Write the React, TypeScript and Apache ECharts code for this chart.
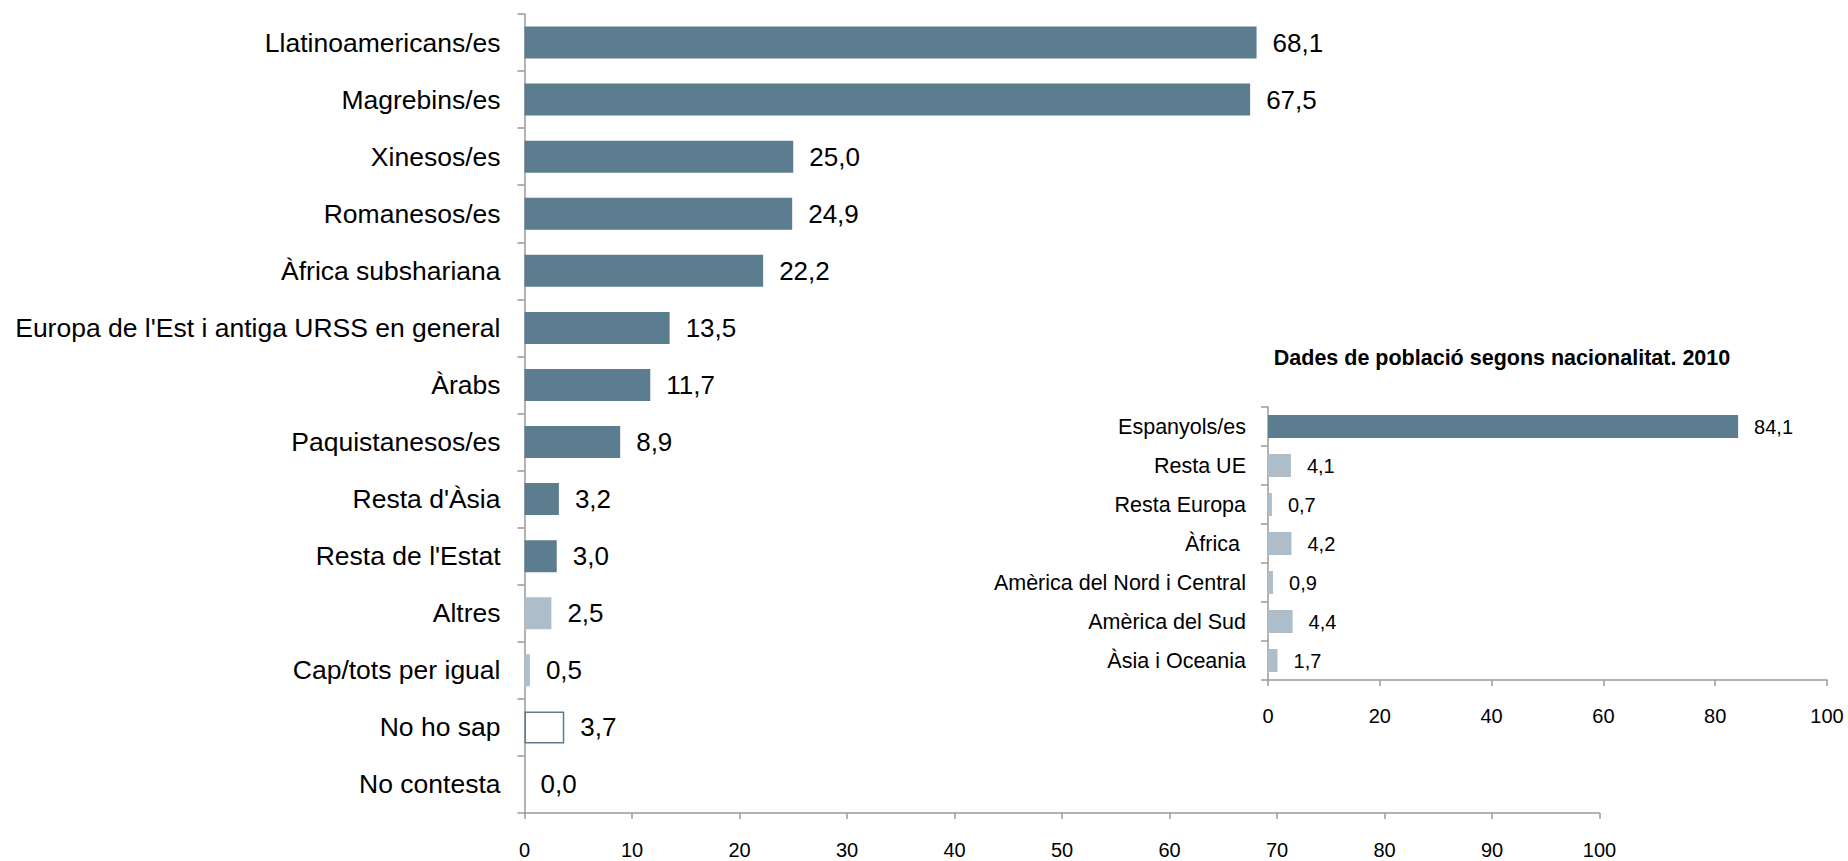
import React, { useEffect, useRef } from "react";
import * as echarts from "echarts";

// Main chart data
const mainCategories = [
  "Llatinoamericans/es",
  "Magrebins/es",
  "Xinesos/es",
  "Romanesos/es",
  "Àfrica subshariana",
  "Europa de l'Est i antiga URSS en general",
  "Àrabs",
  "Paquistanesos/es",
  "Resta d'Àsia",
  "Resta de l'Estat",
  "Altres",
  "Cap/tots per igual",
  "No ho sap",
  "No contesta",
];
const mainValues = [68.1, 67.5, 25.0, 24.9, 22.2, 13.5, 11.7, 8.9, 3.2, 3.0, 2.5, 0.5, 3.7, 0.0];
const lightCategories = ["Altres", "Cap/tots per igual"];
const outlinedCategories = ["No ho sap"];

// Inset chart data
const insetTitle = "Dades de població segons nacionalitat. 2010";
const insetCategories = [
  "Espanyols/es",
  "Resta UE",
  "Resta Europa",
  "Àfrica",
  "Amèrica del Nord i Central",
  "Amèrica del Sud",
  "Àsia i Oceania",
];
const insetValues = [84.1, 4.1, 0.7, 4.2, 0.9, 4.4, 1.7];
const insetDarkCategories = ["Espanyols/es"];

const DARK = "#5B7D8F";
const LIGHT = "#ADBECA";
const AXIS = "#9A9A9A";
const FONT = "'Liberation Sans', Arial, Helvetica, sans-serif";

const fmt = (v: number) => v.toFixed(1).replace(".", ",");

export default function App() {
  const ref = useRef<HTMLDivElement>(null);

  useEffect(() => {
    if (!ref.current) return;
    const chart = echarts.init(ref.current, null, { renderer: "svg" });

    const mainData = mainValues.map((v, i) => {
      const name = mainCategories[i];
      if (outlinedCategories.includes(name)) {
        return { value: v, itemStyle: { color: "#FFFFFF", borderColor: DARK, borderWidth: 1.5 } };
      }
      if (lightCategories.includes(name)) {
        return { value: v, itemStyle: { color: LIGHT } };
      }
      return { value: v, itemStyle: { color: DARK } };
    });

    const insetData = insetValues.map((v, i) => ({
      value: v,
      itemStyle: { color: insetDarkCategories.includes(insetCategories[i]) ? DARK : LIGHT },
    }));

    const axisLine = { show: true, lineStyle: { color: AXIS, width: 1.5 } };
    const axisTick = { show: true, length: 7, lineStyle: { color: AXIS, width: 1.5 } };

    chart.setOption({
      animation: false,
      backgroundColor: "#FFFFFF",
      textStyle: { fontFamily: FONT, color: "#000" },
      title: {
        text: insetTitle,
        left: 1497,
        top: 342,
        textAlign: "center",
        textStyle: { fontFamily: FONT, fontSize: 21.5, fontWeight: "bold", color: "#000" },
      },
      grid: [
        { left: 524.5, top: 14, width: 1075, height: 799, containLabel: false },
        { left: 1268, top: 407, width: 559, height: 273, containLabel: false },
      ],
      xAxis: [
        {
          type: "value",
          gridIndex: 0,
          min: 0,
          max: 100,
          interval: 10,
          splitLine: { show: false },
          axisLine,
          axisTick: { show: true, length: 6, lineStyle: { color: AXIS, width: 1.5 } },
          axisLabel: { fontSize: 20, color: "#000", fontFamily: FONT, margin: 27 },
        },
        {
          type: "value",
          gridIndex: 1,
          min: 0,
          max: 100,
          interval: 20,
          splitLine: { show: false },
          axisLine,
          axisTick: { show: true, length: 6, lineStyle: { color: AXIS, width: 1.5 } },
          axisLabel: { fontSize: 20, color: "#000", fontFamily: FONT, margin: 26 },
        },
      ],
      yAxis: [
        {
          type: "category",
          gridIndex: 0,
          inverse: true,
          data: mainCategories,
          axisLine,
          axisTick,
          axisLabel: { fontSize: 26.5, color: "#000", fontFamily: FONT, margin: 24 },
        },
        {
          type: "category",
          gridIndex: 1,
          inverse: true,
          data: insetCategories,
          axisLine,
          axisTick,
          axisLabel: {
            fontSize: 21.5,
            color: "#000",
            fontFamily: FONT,
            margin: 22,
            formatter: (v: string) => (v === "Àfrica" ? `{a|${v}}` : v),
            rich: { a: { fontSize: 21.5, color: "#000", fontFamily: FONT, padding: [0, 6, 0, 0] } },
          },
        },
      ],
      series: [
        {
          type: "bar",
          xAxisIndex: 0,
          yAxisIndex: 0,
          data: mainData,
          barWidth: 32,
          label: {
            show: true,
            position: "right",
            distance: 16,
            fontSize: 26,
            color: "#000",
            fontFamily: FONT,
            formatter: (p: any) => fmt(p.value),
          },
        },
        {
          type: "bar",
          xAxisIndex: 1,
          yAxisIndex: 1,
          data: insetData,
          barWidth: 23,
          label: {
            show: true,
            position: "right",
            distance: 16,
            fontSize: 20,
            color: "#000",
            fontFamily: FONT,
            formatter: (p: any) => fmt(p.value),
          },
        },
      ],
    });

    return () => chart.dispose();
  }, []);

  return (
    <div
      ref={ref}
      style={{ position: "absolute", left: 0, top: 0, width: 1848, height: 861 }}
    />
  );
}
